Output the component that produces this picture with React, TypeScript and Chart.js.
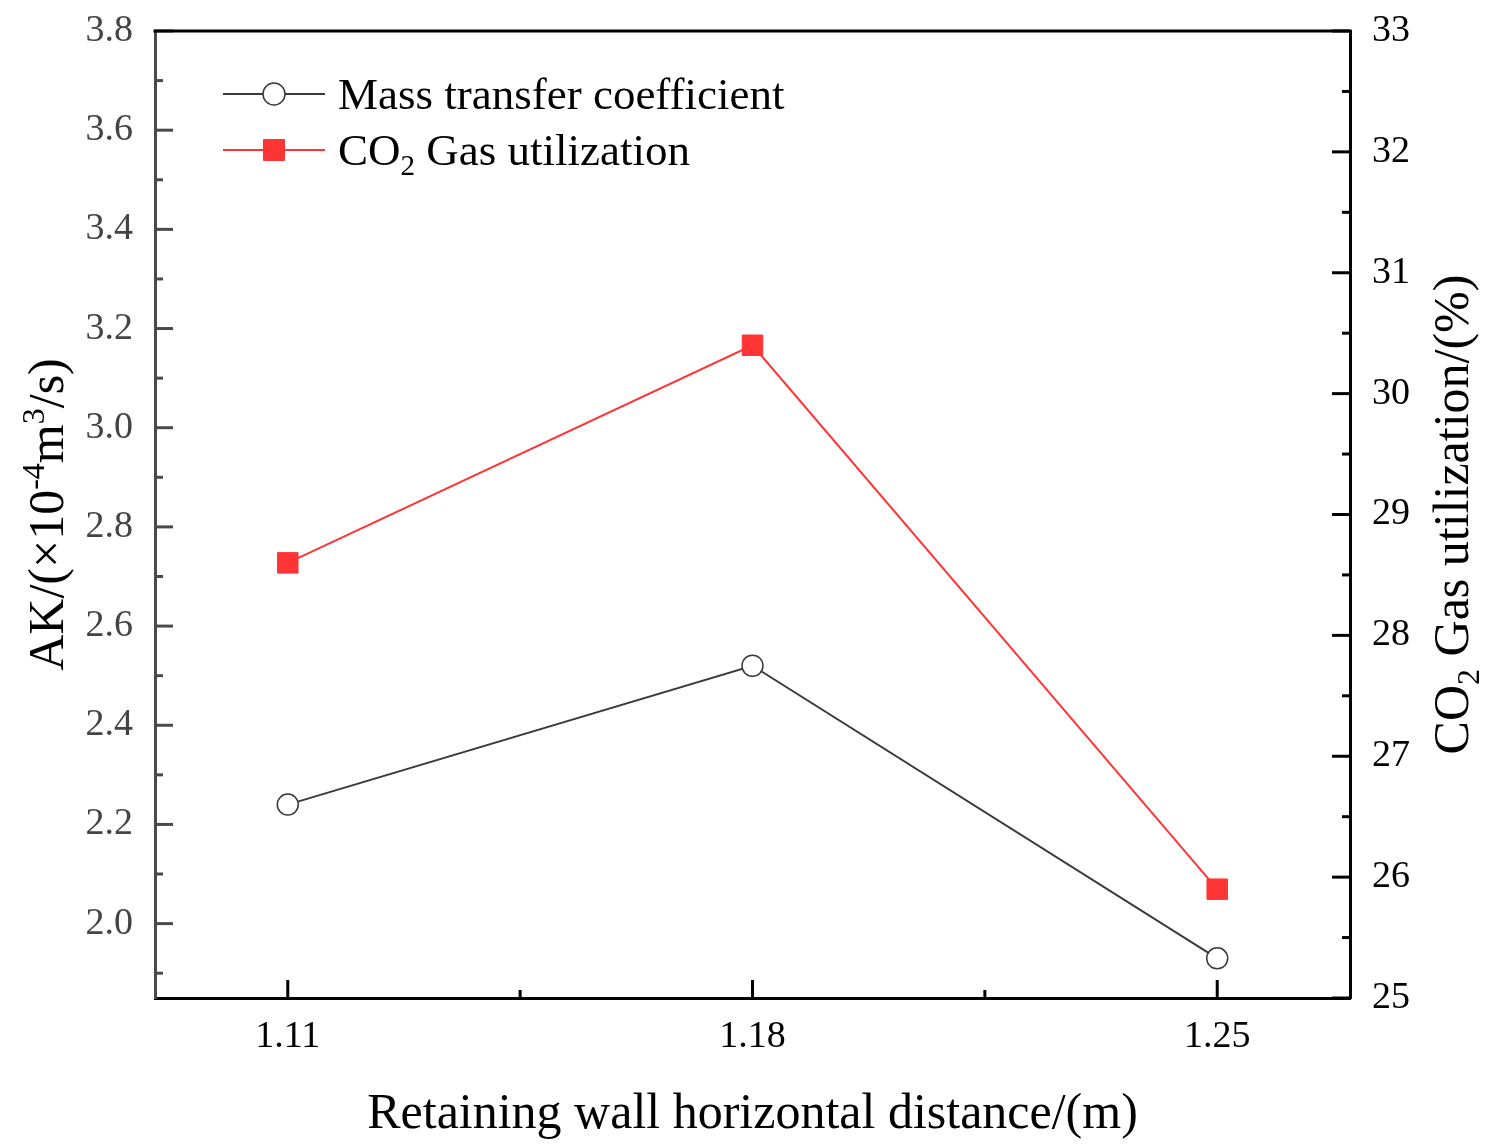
import React, { useEffect, useRef } from 'react';
import { Chart, registerables } from 'chart.js';

Chart.register(...registerables);

// data
const distances = [1.11, 1.18, 1.25];
const massTransfer = [2.24, 2.52, 1.93];
const co2Utilization = [28.6, 30.4, 25.9];

// axis ticks
const xMajorTicks = [1.11, 1.18, 1.25];
const xMinorTicks = [1.145, 1.215];
const leftMajorTicks = [2.0, 2.2, 2.4, 2.6, 2.8, 3.0, 3.2, 3.4, 3.6, 3.8];
const leftMinorTicks = [1.9, 2.1, 2.3, 2.5, 2.7, 2.9, 3.1, 3.3, 3.5, 3.7];
const rightMajorTicks = [25, 26, 27, 28, 29, 30, 31, 32, 33];
const rightMinorTicks = [25.5, 26.5, 27.5, 28.5, 29.5, 30.5, 31.5, 32.5];

const FONT = "'Liberation Serif', 'DejaVu Serif', serif";
const GRAY = '#4a4a4a';
const RED = '#ff3535';

type Seg = { text: string; pos?: 'sup' | 'sub' };

const xTitle: Seg[] = [{ text: 'Retaining wall horizontal distance/(m)' }];
const leftTitle: Seg[] = [
  { text: 'AK/(\u00d710' },
  { text: '-4', pos: 'sup' },
  { text: 'm' },
  { text: '3', pos: 'sup' },
  { text: '/s)' },
];
const rightTitle: Seg[] = [
  { text: 'CO' },
  { text: '2', pos: 'sub' },
  { text: ' Gas utilization/(%)' },
];
const legendMass: Seg[] = [{ text: 'Mass transfer coefficient' }];
const legendCo2: Seg[] = [
  { text: 'CO' },
  { text: '2', pos: 'sub' },
  { text: ' Gas utilization' },
];

function drawRich(
  ctx: CanvasRenderingContext2D,
  segs: Seg[],
  x: number,
  y: number,
  size: number,
  align: 'left' | 'center'
) {
  const small = Math.round(size * 0.64);
  const widths = segs.map((s) => {
    ctx.font = `${s.pos ? small : size}px ${FONT}`;
    return ctx.measureText(s.text).width;
  });
  const total = widths.reduce((a, b) => a + b, 0);
  let cx = align === 'center' ? x - total / 2 : x;
  ctx.textAlign = 'left';
  ctx.textBaseline = 'alphabetic';
  segs.forEach((s, i) => {
    ctx.font = `${s.pos ? small : size}px ${FONT}`;
    const dy = s.pos === 'sup' ? -size * 0.38 : s.pos === 'sub' ? size * 0.22 : 0;
    ctx.fillText(s.text, cx, y + dy);
    cx += widths[i];
  });
}

const inwardTicks = {
  id: 'inwardTicks',
  beforeDatasetsDraw(chart: any) {
    const { ctx, chartArea, scales } = chart;
    const { left, right, top, bottom } = chartArea;
    ctx.save();
    ctx.lineWidth = 3;
    ctx.lineCap = 'butt';

    const tick = (x1: number, y1: number, x2: number, y2: number, color: string) => {
      ctx.strokeStyle = color;
      ctx.beginPath();
      ctx.moveTo(x1, y1);
      ctx.lineTo(x2, y2);
      ctx.stroke();
    };

    leftMajorTicks.forEach((v) => {
      const y = scales.y.getPixelForValue(v);
      tick(left, y, left + 18, y, GRAY);
    });
    leftMinorTicks.forEach((v) => {
      const y = scales.y.getPixelForValue(v);
      tick(left, y, left + 8, y, GRAY);
    });
    rightMajorTicks.forEach((v) => {
      const y = scales.y1.getPixelForValue(v);
      tick(right, y, right - 18, y, '#000');
    });
    rightMinorTicks.forEach((v) => {
      const y = scales.y1.getPixelForValue(v);
      tick(right, y, right - 8, y, '#000');
    });
    xMajorTicks.forEach((v) => {
      const x = scales.x.getPixelForValue(v);
      tick(x, bottom, x, bottom - 18, '#000');
    });
    xMinorTicks.forEach((v) => {
      const x = scales.x.getPixelForValue(v);
      tick(x, bottom, x, bottom - 8, '#000');
    });

    // top frame line
    tick(left - 1.5, top, right + 1.5, top, '#000');
    ctx.restore();
  },
};

const textsAndLegend = {
  id: 'textsAndLegend',
  afterDraw(chart: any) {
    const { ctx, chartArea } = chart;
    const midX = (chartArea.left + chartArea.right) / 2;
    const midY = (chartArea.top + chartArea.bottom) / 2;
    ctx.save();
    ctx.fillStyle = '#000';

    drawRich(ctx, xTitle, midX, 1128, 50, 'center');

    ctx.save();
    ctx.translate(63, midY);
    ctx.rotate(-Math.PI / 2);
    drawRich(ctx, leftTitle, 0, 0, 50, 'center');
    ctx.restore();

    ctx.save();
    ctx.translate(1468, midY);
    ctx.rotate(-Math.PI / 2);
    drawRich(ctx, rightTitle, 0, 0, 50, 'center');
    ctx.restore();

    // legend
    const rows = [
      { y: 94, segs: legendMass, ds: chart.data.datasets[0] },
      { y: 150, segs: legendCo2, ds: chart.data.datasets[1] },
    ];
    rows.forEach(({ y, segs, ds }) => {
      ctx.strokeStyle = ds.borderColor;
      ctx.lineWidth = ds.borderWidth;
      ctx.beginPath();
      ctx.moveTo(223, y);
      ctx.lineTo(325, y);
      ctx.stroke();
      ctx.fillStyle = ds.pointBackgroundColor;
      ctx.strokeStyle = ds.pointBorderColor;
      ctx.lineWidth = ds.pointBorderWidth;
      ctx.beginPath();
      if (ds.pointStyle === 'circle') {
        ctx.arc(274, y, 11, 0, Math.PI * 2);
      } else {
        ctx.rect(274 - 10.5, y - 10.5, 21, 21);
      }
      ctx.fill();
      ctx.stroke();
      ctx.fillStyle = '#000';
      drawRich(ctx, segs, 338, y + 15, 45, 'left');
    });
    ctx.restore();
  },
};

export default function App() {
  const canvasRef = useRef<HTMLCanvasElement>(null);
  const chartRef = useRef<Chart | null>(null);

  useEffect(() => {
    document.body.style.margin = '0';
    if (!canvasRef.current) return;
    if (chartRef.current) chartRef.current.destroy();
    const ctx = canvasRef.current.getContext('2d');
    if (!ctx) return;

    chartRef.current = new Chart(ctx, {
      type: 'line',
      data: {
        datasets: [
          {
            label: 'Mass transfer coefficient',
            data: distances.map((d, i) => ({ x: d, y: massTransfer[i] })),
            yAxisID: 'y',
            borderColor: '#3a3a3a',
            borderWidth: 2,
            pointStyle: 'circle',
            pointRadius: 10.5,
            pointBackgroundColor: '#fff',
            pointBorderColor: '#3a3a3a',
            pointBorderWidth: 1.5,
            tension: 0,
          },
          {
            label: 'CO2 Gas utilization',
            data: distances.map((d, i) => ({ x: d, y: co2Utilization[i] })),
            yAxisID: 'y1',
            borderColor: RED,
            borderWidth: 2,
            pointStyle: 'rect',
            pointRadius: 14.5,
            pointBackgroundColor: RED,
            pointBorderColor: RED,
            pointBorderWidth: 1,
            tension: 0,
          },
        ],
      },
      options: {
        responsive: true,
        maintainAspectRatio: false,
        animation: false,
        layout: { padding: { top: 31, left: 0, right: 0, bottom: 0 } },
        plugins: {
          legend: { display: false },
          tooltip: { enabled: false },
        },
        scales: {
          x: {
            type: 'linear',
            min: 1.09,
            max: 1.27,
            afterBuildTicks: (s: any) => {
              s.ticks = xMajorTicks.map((v) => ({ value: v }));
            },
            afterFit: (s: any) => {
              s.height = 148;
              s.paddingLeft = 0;
              s.paddingRight = 0;
            },
            grid: { display: false, drawTicks: false },
            border: { display: true, color: '#000', width: 3 },
            ticks: {
              padding: 16,
              color: '#000',
              autoSkip: false,
              maxRotation: 0,
              font: { family: FONT, size: 38 },
              callback: (v: any) => Number(v).toFixed(2),
            },
          },
          y: {
            type: 'linear',
            position: 'left',
            min: 1.85,
            max: 3.8,
            afterBuildTicks: (s: any) => {
              s.ticks = leftMajorTicks.map((v) => ({ value: v }));
            },
            afterFit: (s: any) => {
              s.width = 155;
              s.paddingTop = 0;
              s.paddingBottom = 0;
            },
            grid: { display: false, drawTicks: false },
            border: { display: true, color: GRAY, width: 3 },
            ticks: {
              padding: 22,
              color: '#444',
              font: { family: FONT, size: 38 },
              callback: (v: any) => Number(v).toFixed(1),
            },
          },
          y1: {
            type: 'linear',
            position: 'right',
            min: 25,
            max: 33,
            afterBuildTicks: (s: any) => {
              s.ticks = rightMajorTicks.map((v) => ({ value: v }));
            },
            afterFit: (s: any) => {
              s.width = 145;
              s.paddingTop = 0;
              s.paddingBottom = 0;
            },
            grid: { display: false, drawTicks: false },
            border: { display: true, color: '#000', width: 3 },
            ticks: {
              padding: 22,
              color: '#000',
              font: { family: FONT, size: 38 },
              callback: (v: any) => String(v),
            },
          },
        },
      },
      plugins: [inwardTicks, textsAndLegend],
    });

    return () => {
      if (chartRef.current) {
        chartRef.current.destroy();
        chartRef.current = null;
      }
    };
  }, []);

  return (
    <div style={{ width: 1495, height: 1146, position: 'relative', background: '#fff' }}>
      <canvas ref={canvasRef}></canvas>
    </div>
  );
}
